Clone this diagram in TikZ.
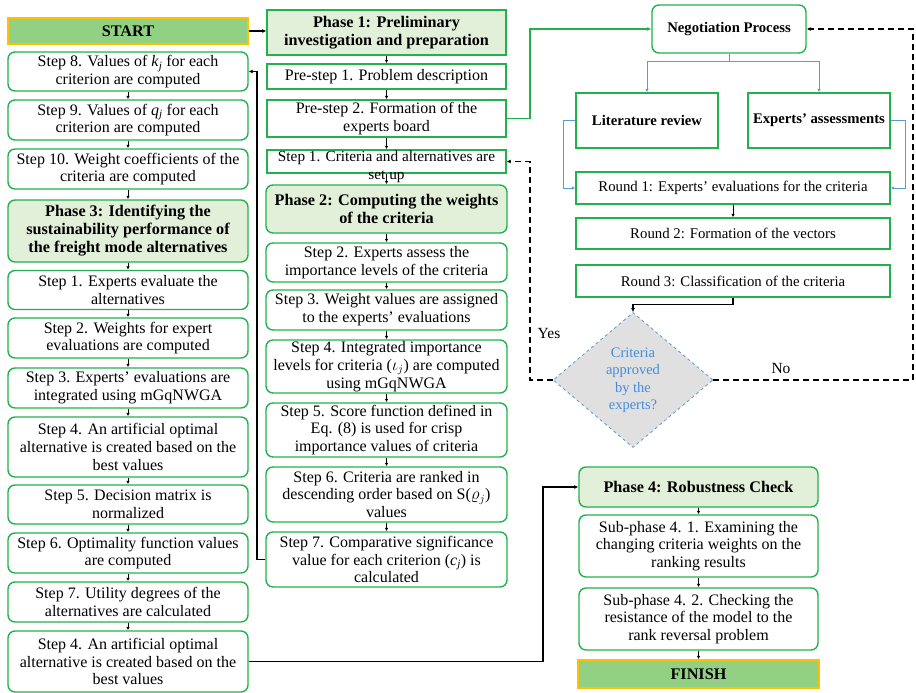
\documentclass[tikz,border=0pt]{standalone}
\usepackage{fontspec}
\setmainfont{Liberation Serif}
\usetikzlibrary{arrows.meta,shapes.geometric}
\definecolor{bgreen}{RGB}{34,177,76}
\definecolor{lgreen}{RGB}{226,240,217}
\definecolor{tgreen}{RGB}{146,208,132}
\definecolor{torange}{RGB}{255,192,0}
\definecolor{lblue}{RGB}{91,155,213}
\definecolor{dblue}{RGB}{70,140,220}
\definecolor{dgray}{RGB}{224,224,224}
\begin{document}
\begin{tikzpicture}[x=1pt,y=-1pt,
  txt/.style={font=\fontsize{16}{17.8}\selectfont},
  rbox/.style={draw=bgreen, line width=1.4pt, rounded corners=7pt, fill=white, align=center, inner sep=0.5pt, txt},
  sbox/.style={draw=bgreen, line width=1.4pt, fill=white, align=center, inner sep=0.5pt, txt},
  lbox/.style={rbox, minimum width=240pt},
  mbox/.style={rbox, minimum width=241pt},
  msq/.style={sbox, minimum width=239pt},
  phasebox/.style={fill=lgreen, font=\bfseries\fontsize{16.2}{18}\selectfont},
  termbox/.style={draw=torange, line width=1.4pt, fill=tgreen, align=center, font=\bfseries\fontsize{16.2}{18}\selectfont},
  rsq/.style={draw=bgreen, line width=1.4pt, fill=white, align=center, inner sep=1pt, font=\fontsize{14.8}{16}\selectfont},
  arr/.style={line width=0.9pt, -{Latex[length=3.5pt,width=3.5pt]}},
  larr/.style={line width=1.1pt, -{Latex[length=4pt,width=4pt]}},
  garr/.style={draw=bgreen, line width=1.1pt, -{Latex[length=4pt,width=4pt]}},
  barr/.style={draw=lblue, line width=0.8pt, -{Latex[length=3.5pt,width=3.5pt]}},
  darr/.style={line width=1.3pt, dash pattern=on 6pt off 4pt, -{Latex[length=4pt,width=4pt]}},
]
\useasboundingbox (0,0) rectangle (916,693);

% ---------------- left column ----------------
\node[termbox, minimum width=240pt, minimum height=26pt, inner sep=1pt] (start) at (128,31) {START};
\node[lbox, minimum height=39pt] (l8) at (128,71.5) {Step 8. Values of \textit{k}\textsubscript{\textit{j}} for each\\criterion are computed};
\node[lbox, minimum height=40pt] (l9) at (128,120) {Step 9. Values of \textit{q}\textsubscript{\textit{j}} for each\\criterion are computed};
\node[lbox, minimum height=40pt] (l10) at (128,169) {Step 10. Weight coefficients of the\\criteria are computed};
\node[lbox, phasebox, minimum height=62pt] (ph3) at (128,231) {Phase 3: Identifying the\\sustainability performance of\\the freight mode alternatives};
\node[lbox, minimum height=39pt] (l1) at (128,290) {Step 1. Experts evaluate the\\alternatives};
\node[lbox, minimum height=40pt] (l2) at (128,338) {Step 2. Weights for expert\\evaluations are computed};
\node[lbox, minimum height=40pt] (l3) at (128,388) {Step 3. Experts’ evaluations are\\integrated using mGqNWGA};
\node[lbox, minimum height=60pt] (l4) at (128,447) {Step 4. An artificial optimal\\alternative is created based on the\\best values};
\node[lbox, minimum height=39pt] (l5) at (128,504.5) {Step 5. Decision matrix is\\normalized};
\node[lbox, minimum height=40pt] (l6) at (128,553) {Step 6. Optimality function values\\are computed};
\node[lbox, minimum height=40pt] (l7) at (128,602) {Step 7. Utility degrees of the\\alternatives are calculated};
\node[lbox, minimum height=61pt] (l4b) at (128,661.5) {Step 4. An artificial optimal\\alternative is created based on the\\best values};

\foreach \a/\b in {l8/l9,l9/l10,l10/ph3,ph3/l1,l1/l2,l2/l3,l3/l4,l4/l5,l5/l6,l6/l7,l7/l4b}
  \draw[arr] (\a.south) -- (\b.north);

% ---------------- middle column ----------------
\node[msq, phasebox, minimum height=45pt] (ph1) at (386.5,32.5) {Phase 1: Preliminary\\investigation and preparation};
\node[msq, minimum height=25pt] (pre1) at (386.5,76.5) {Pre-step 1. Problem description};
\node[msq, minimum height=37pt] (pre2) at (386.5,118.5) {Pre-step 2. Formation of the\\experts board};
\node[msq, minimum height=23pt] (m1) at (386.5,161.5) {};
\node[align=center, inner sep=0pt, font=\fontsize{15.3}{17.5}\selectfont] (m1t) at (386.5,167) {Step 1. Criteria and alternatives are\\set up};
\node[mbox, phasebox, minimum height=48pt] (ph2) at (386.5,209) {Phase 2: Computing the weights\\of the criteria};
\node[mbox, minimum height=39pt] (m2) at (386.5,262.5) {Step 2. Experts assess the\\importance levels of the criteria};
\node[mbox, minimum height=40pt] (m3) at (386.5,310) {Step 3. Weight values are assigned\\to the experts’ evaluations};
\node[mbox, minimum height=53pt] (m4) at (386.5,366.5) {Step 4. Integrated importance\\levels for criteria ($\iota_j$) are computed\\using mGqNWGA};
\node[mbox, minimum height=54pt] (m5) at (386.5,430) {Step 5. Score function defined in\\Eq. (8) is used for crisp\\importance values of criteria};
\node[mbox, minimum height=55pt] (m6) at (386.5,494.5) {Step 6. Criteria are ranked in\\descending order based on S($\varrho_j$)\\values};
\node[mbox, minimum height=55pt] (m7) at (386.5,559.5) {Step 7. Comparative significance\\value for each criterion (\textit{c}\textsubscript{\textit{j}}) is\\calculated};

\foreach \a/\b in {ph1/pre1,pre1/pre2,pre2/m1,m1/ph2,ph2/m2,m2/m3,m3/m4,m4/m5,m5/m6,m6/m7}
  \draw[arr] (\a.south) -- (\b.north);

% ---------------- right part ----------------
\node[rbox, minimum width=154pt, minimum height=48pt, font=\bfseries\fontsize{14.7}{16}\selectfont] (neg) at (729,29) {Negotiation Process};
\node[rsq, minimum width=142pt, minimum height=55pt, font=\bfseries\fontsize{14.7}{16}\selectfont] (lit) at (647,120.5) {Literature review};
\node[rsq, minimum width=142pt, minimum height=55pt, font=\bfseries\fontsize{14.7}{16}\selectfont] (exp) at (819,120.5) {Experts’ assessments};
\node[rsq, minimum width=314pt, minimum height=32pt] (r1) at (733,188) {Round 1: Experts’ evaluations for the criteria};
\node[rsq, minimum width=314pt, minimum height=31pt] (r2) at (733,233.5) {Round 2: Formation of the vectors};
\node[rsq, minimum width=314pt, minimum height=32pt] (r3) at (733,281) {Round 3: Classification of the criteria};
\node[diamond, draw=lblue, dashed, line width=0.8pt, fill=dgray, minimum width=160pt, minimum height=135pt, inner sep=0pt, align=center, text=dblue, font=\fontsize{14.5}{17.5}\selectfont] (dia) at (633,380) {Criteria\\approved\\by the\\experts?};

\node[termbox, rounded corners=7pt, draw=bgreen, fill=lgreen, minimum width=239pt, minimum height=40pt, inner sep=1pt] (ph4) at (698.5,487) {Phase 4: Robustness Check};
\node[rbox, minimum width=239pt, minimum height=62pt] (s1) at (698.5,546) {Sub-phase 4. 1. Examining the\\changing criteria weights on the\\ranking results};
\node[rbox, minimum width=239pt, minimum height=62pt] (s2) at (698.5,619) {Sub-phase 4. 2. Checking the\\resistance of the model to the\\rank reversal problem};
\node[termbox, minimum width=241pt, minimum height=28pt, inner sep=1pt] (finish) at (698.5,674) {FINISH};

\foreach \a/\b in {ph4/s1,s1/s2,s2/finish}
  \draw[arr] (\a.south) -- (\b.north);
\draw[arr] (r1.south) -- (r2.north);

\node[font=\fontsize{15.5}{17}\selectfont] (yes) at (549,333) {Yes};
\node[font=\fontsize{15.5}{17}\selectfont] (no) at (781,368) {No};

% ---------------- connectors ----------------
\draw[larr] (start.east) -- (start.east -| ph1.west);

\coordinate (lp) at (257,0);
\draw[larr] (m7.west) -- (m7.west -| lp) |- (l8.east);

\coordinate (gc) at (530,0);
\draw[garr] (pre2.east) -- (pre2.east -| gc) |- (neg.west);

\coordinate (bs) at (729,61);
\draw[barr] (neg.south) -- (bs) -| (lit.north);
\draw[barr] (bs) -| (exp.north);
\coordinate (bl) at (563,0);
\draw[barr] (lit.west) -- (lit.west -| bl) |- (r1.west);
\coordinate (br) at (905,0);
\draw[barr] (exp.east) -- (exp.east -| br) |- (r1.east);

\draw[larr] (r3.south) -- ++(0,7) -| (dia.north);

\coordinate (yc) at (530,0);
\draw[darr] (dia.west) -- (dia.west -| yc) |- (m1.east);
\coordinate (nc) at (913,0);
\draw[darr] (dia.east) -- (dia.east -| nc) |- (neg.east);

\coordinate (pc) at (543,0);
\draw[larr] (l4b.east) -- (l4b.east -| pc) |- (ph4.west);
\end{tikzpicture}
\end{document}
